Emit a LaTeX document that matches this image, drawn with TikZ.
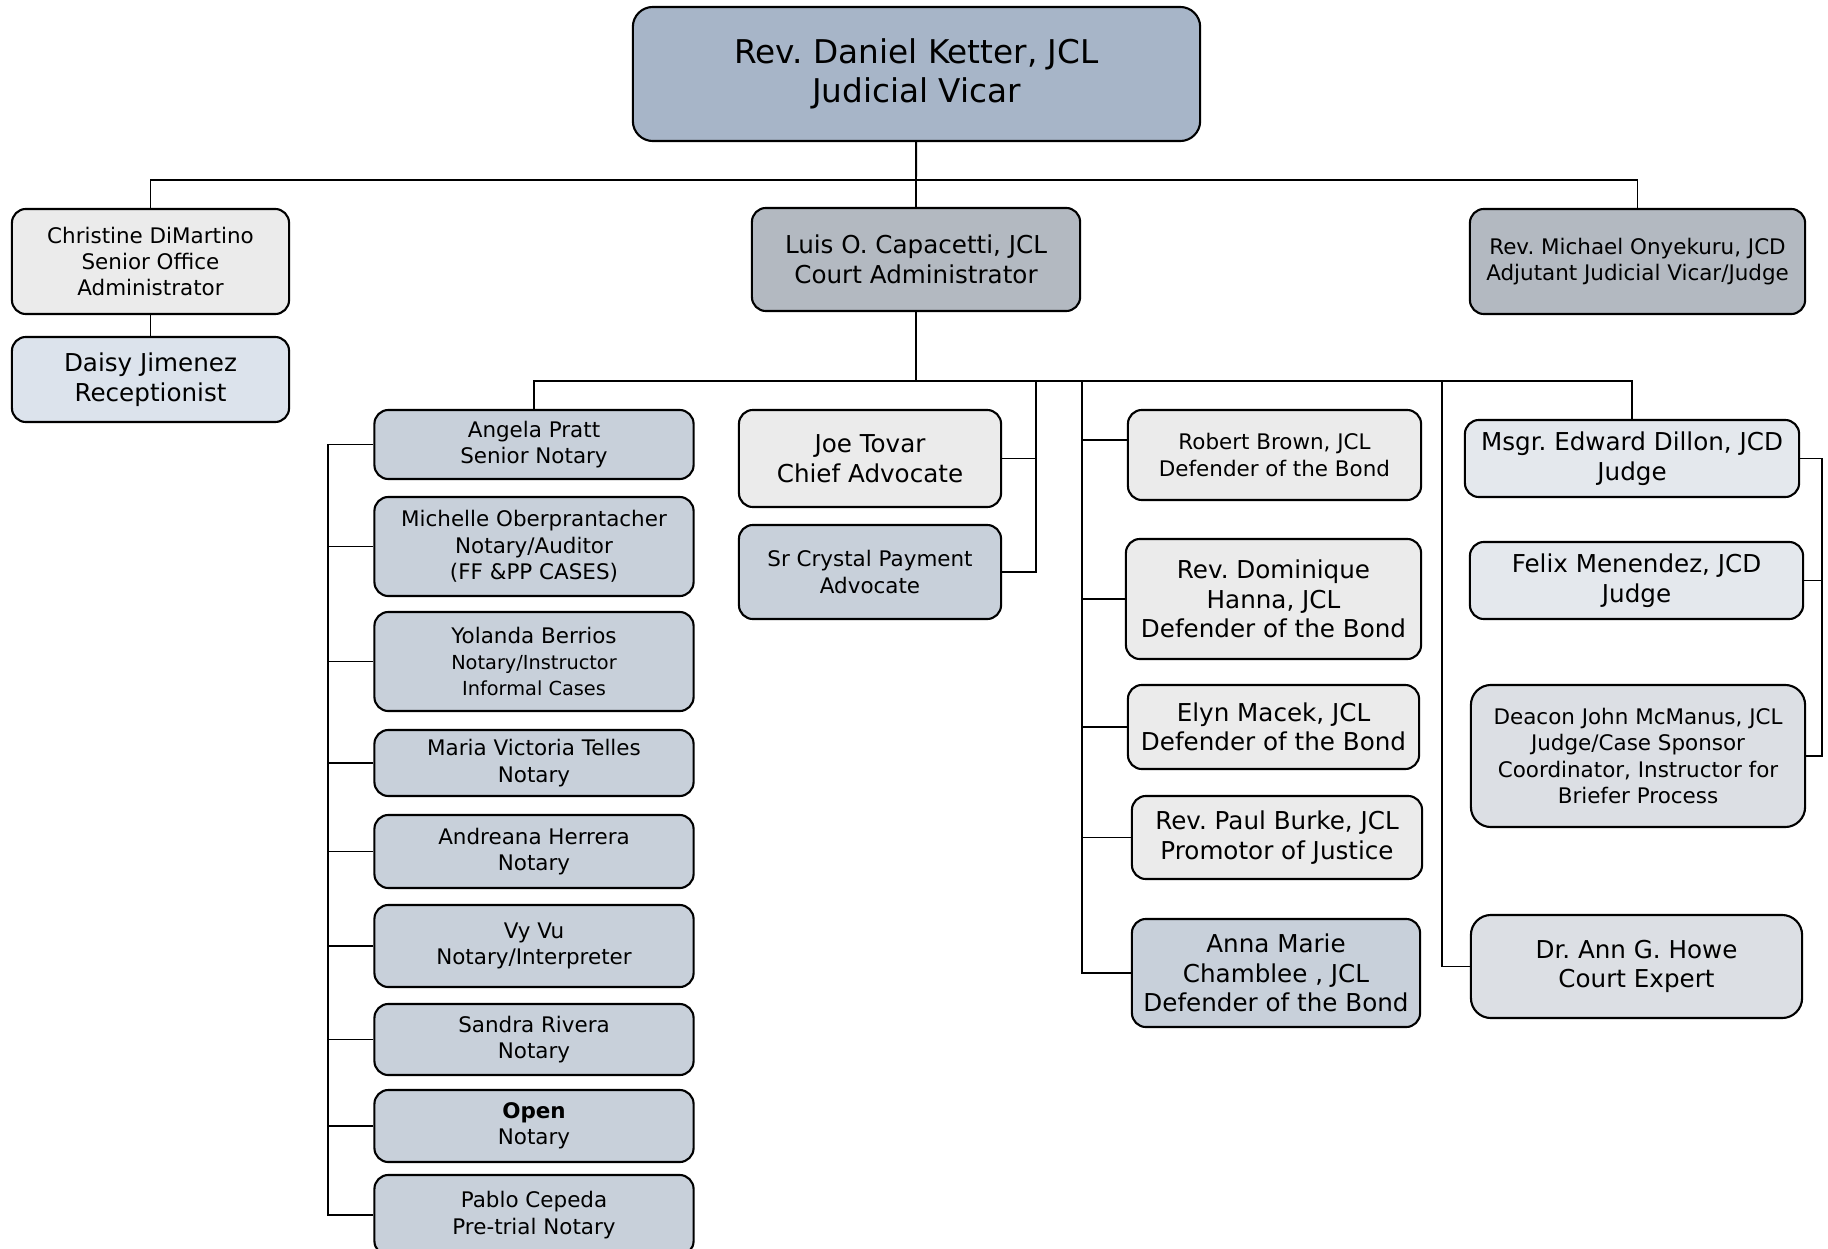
\documentclass[tikz,border=0pt]{standalone}
\usepackage{fontspec}
\setmainfont{DejaVu Sans}
\frenchspacing
\definecolor{vicarfill}{HTML}{A7B5C8}
\definecolor{chieffill}{HTML}{B3B9C1}
\definecolor{greyfill}{HTML}{EBEBEB}
\definecolor{recfill}{HTML}{DCE3EC}
\definecolor{notfill}{HTML}{C8D0DA}
\definecolor{judgefill}{HTML}{E4E8ED}
\definecolor{expfill}{HTML}{DCDFE4}
\begin{document}
\begin{tikzpicture}[x=0.01cm, y=-0.01cm,
   card/.style={draw, line width=0.6pt, rounded corners=0.14cm, align=center, inner sep=0pt},
   fsA/.style={font=\fontsize{9.3}{11.1}\selectfont},
   fsB/.style={font=\fontsize{7}{8.4}\selectfont},
   fsC/.style={font=\fontsize{6.1}{7.5}\selectfont},
   notary/.style={card, fsC, fill=notfill, minimum width=3.19cm},
   wire/.style={line width=0.55pt}]
   \useasboundingbox (0,0) rectangle (1828,1249);

   % top row
   \node[card, fsA, fill=vicarfill, minimum width=5.67cm, minimum height=1.34cm, rounded corners=0.2cm]
     (vicar) at (916.5,74) {Rev. Daniel Ketter, JCL\\Judicial Vicar};
   \node[card, fsC, fill=greyfill, minimum width=2.77cm, minimum height=1.05cm]
     (office) at (150.5,261.5) {Christine DiMartino\\Senior Office\\Administrator};
   \node[card, fsB, fill=recfill, minimum width=2.77cm, minimum height=0.85cm]
     (recep) at (150.5,379.5) {Daisy Jimenez\\Receptionist};
   \node[card, fsB, fill=chieffill, minimum width=3.28cm, minimum height=1.03cm]
     (court) at (916,259.5) {Luis O. Capacetti, JCL\\Court Administrator};
   \node[card, fsC, fill=chieffill, minimum width=3.35cm, minimum height=1.05cm]
     (adjvic) at (1637.5,261.5) {Rev. Michael Onyekuru, JCD\\Adjutant Judicial Vicar/Judge};

   % notaries
   \node[notary, minimum height=0.69cm] (angela) at (534,444.5) {Angela Pratt\\Senior Notary};
   \node[notary, minimum height=0.99cm] (michelle) at (534,546.5) {Michelle Oberprantacher\\Notary/Auditor\\(FF \&PP CASES)};
   \node[notary, minimum height=0.99cm] (yolanda) at (534,661.5)
     {Yolanda Berrios\\{\fontsize{5.5}{6.6}\selectfont Notary/Instructor}\\{\fontsize{5.5}{6.6}\selectfont Informal Cases}};
   \node[notary, minimum height=0.66cm] (maria) at (534,763) {Maria Victoria Telles\\Notary};
   \node[notary, minimum height=0.73cm] (andreana) at (534,851.5) {Andreana Herrera\\Notary};
   \node[notary, minimum height=0.82cm] (vyvu) at (534,946) {Vy Vu\\Notary/Interpreter};
   \node[notary, minimum height=0.71cm] (sandra) at (534,1039.5) {Sandra Rivera\\Notary};
   \node[notary, minimum height=0.72cm] (open) at (534,1126) {\textbf{Open}\\Notary};
   \node[notary, minimum height=0.80cm] (pablo) at (534,1215) {Pablo Cepeda\\Pre-trial Notary};

   % advocates
   \node[card, fsB, fill=greyfill, minimum width=2.62cm, minimum height=0.97cm]
     (joe) at (870,458.5) {Joe Tovar\\Chief Advocate};
   \node[card, fsC, fill=notfill, minimum width=2.62cm, minimum height=0.94cm]
     (crystal) at (870,572) {Sr Crystal Payment\\Advocate};

   % defenders and promotor
   \node[card, fsC, fill=greyfill, minimum width=2.93cm, minimum height=0.90cm]
     (robert) at (1274.5,455) {Robert Brown, JCL\\Defender of the Bond};
   \node[card, fsB, fill=greyfill, minimum width=2.95cm, minimum height=1.20cm]
     (dominique) at (1273.5,599) {Rev. Dominique\\Hanna, JCL\\Defender of the Bond};
   \node[card, fsB, fill=greyfill, minimum width=2.91cm, minimum height=0.84cm]
     (elyn) at (1273.5,727) {Elyn Macek, JCL\\Defender of the Bond};
   \node[card, fsB, fill=greyfill, minimum width=2.90cm, minimum height=0.83cm]
     (paul) at (1277,837.5) {Rev. Paul Burke, JCL\\Promotor of Justice};
   \node[card, fsB, fill=notfill, minimum width=2.88cm, minimum height=1.08cm]
     (anna) at (1276,973) {Anna Marie\\Chamblee , JCL\\Defender of the Bond};

   % judges and expert
   \node[card, fsB, fill=judgefill, minimum width=3.34cm, minimum height=0.77cm]
     (dillon) at (1632,458.5) {Msgr. Edward Dillon, JCD\\Judge};
   \node[card, fsB, fill=judgefill, minimum width=3.33cm, minimum height=0.77cm]
     (felix) at (1636.5,580.5) {Felix Menendez, JCD\\Judge};
   \node[card, fsC, fill=expfill, minimum width=3.34cm, minimum height=1.42cm, rounded corners=0.2cm]
     (deacon) at (1638,756) {Deacon John McManus, JCL\\Judge/Case Sponsor\\Coordinator, Instructor for\\Briefer Process};
   \node[card, fsB, fill=expfill, minimum width=3.31cm, minimum height=1.03cm, rounded corners=0.2cm]
     (howe) at (1636.5,966.5) {Dr. Ann G. Howe\\Court Expert};

   % connectors
   \coordinate (bus1) at (916,180);
   \coordinate (bus2) at (919,381);
   \coordinate (nspine) at (328,438);
   \coordinate (adv) at (1036,381);
   \coordinate (dfn) at (1082,381);
   \coordinate (exp) at (1442,381);
   \coordinate (jdg) at (1822,456);

   \draw[wire] (vicar) -- (bus1);
   \draw[wire] (office.north) |- (bus1) -| (adjvic.north);
   \draw[wire] (bus1) -- (court.north);
   \draw[wire] (office) -- (recep);
   \draw[wire] (court.south) -- (court.south |- bus2);
   \draw[wire] (angela.north) |- (bus2) -| (dillon.north);

   \draw[wire] (angela.west) -| (nspine |- pablo.west) -- (pablo.west);
   \foreach \n in {michelle,yolanda,maria,andreana,vyvu,sandra,open}
     \draw[wire] (\n.west) -- (\n.west -| nspine);

   \draw[wire] (adv) |- (crystal.east);
   \draw[wire] (joe.east) -- (joe.east -| adv);

   \draw[wire] (dfn) |- (anna.west);
   \draw[wire] ([yshift=0.15cm]robert.west) -- ([yshift=0.15cm]robert.west -| dfn);
   \foreach \n in {dominique,elyn,paul}
     \draw[wire] (\n.west) -- (\n.west -| dfn);

   \draw[wire] (exp) |- (howe.west);
   \draw[wire] (dillon.east) -| (jdg |- deacon.east) -- (deacon.east);
   \draw[wire] (felix.east) -- (felix.east -| jdg);
\end{tikzpicture}
\end{document}
